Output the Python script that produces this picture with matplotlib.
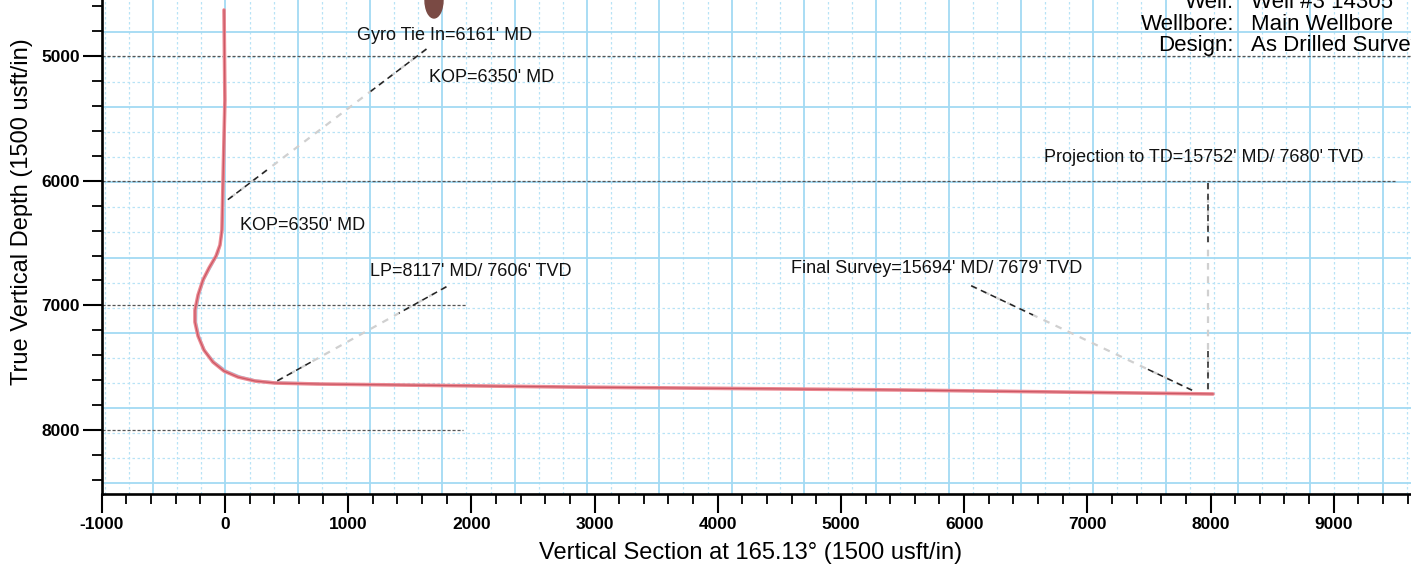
import numpy as np
import matplotlib.pyplot as plt
from matplotlib.patches import Ellipse

plt.rcParams['font.family'] = ['Liberation Sans', 'DejaVu Sans']
plt.rcParams['axes.unicode_minus'] = False

# well path: vertical section (usft) vs TVD (usft)
path_vs = [-7, 0, -15, -24, -40, -72, -129, -178, -218, -243, -243, -218, -170,
           -97, -7, 106, 244, 406, 747, 2777, 5480, 8020]
path_tvd = [4631, 5353, 5994, 6395, 6516, 6604, 6700, 6796, 6917, 7037, 7133, 7245, 7358,
            7454, 7526, 7574, 7606, 7622, 7630, 7654, 7678, 7710]

# plan line (thin blue) that runs along the curve
plan_vs = [-12, -20, -50, -110, -165, -205, -228, -230, -205, -160, -85, 10, 120, 250, 410, 760]
plan_tvd = [6000, 6420, 6580, 6690, 6790, 6910, 7035, 7135, 7250, 7360, 7450, 7520, 7566, 7598, 7614, 7622]

# annotations: text, text anchor (vs, tvd)
notes = [
    ("Gyro Tie In=6161' MD", 1069, 4839),
    ("KOP=6350' MD", 1660, 5169),
    ("KOP=6350' MD", 121, 6360),
    ("LP=8117' MD/ 7606' TVD", 1174, 6730),
    ("Final Survey=15694' MD/ 7679' TVD", 4591, 6706),
    ("Projection to TD=15752' MD/ 7680' TVD", 6648, 5813),
]
# leader lines, from -> to
leaders = [
    ((1636, 4944), (16, 6158)),     # gyro tie in
    ((1798, 6850), (421, 7607)),    # LP
    ((6057, 6842), (7850, 7680)),   # final survey
    ((7976, 6022), (7976, 7703)),   # projection to TD
]

header_keys = ['Well:', 'Wellbore:', 'Design:']
header_vals = ['Well #3 14305', 'Main Wellbore', 'As Drilled Survey']

W, H = 1411, 574
fig = plt.figure(figsize=(W / 100, H / 100), dpi=100)
ax = fig.add_axes([101.7 / W, 80 / H, 1 - 101.7 / W, 494 / H])
ax.set_xlim(-1000, 9627)
ax.set_ylim(8512, 4551)

# graph paper grid
gx0, gdx = 591, 587
for i, v in enumerate(np.arange(gx0 - 3 * gdx, 9700, gdx / 3)):
    if i % 3 == 0:
        ax.axvline(v, color='#a3daf3', lw=1.3, zorder=0)
    else:
        ax.axvline(v, color='#b8e3f6', lw=0.9, ls=(0, (2, 2)), zorder=0)
gy0, gdy = 5410, 603
for i, v in enumerate(np.arange(gy0 - gdy, 8600, gdy / 3)):
    if i % 3 == 0:
        ax.axhline(v, color='#a3daf3', lw=1.3, zorder=0)
    else:
        ax.axhline(v, color='#b8e3f6', lw=0.9, ls=(0, (2, 2)), zorder=0)

# dark dotted lines at the major depth ticks
for d, xe in [(5000, 9627), (6000, 9500), (7000, 1965), (8000, 1930)]:
    ax.plot([-1000, xe], [d, d], color='#555555', lw=0.9, ls=(0, (2.5, 1.5)), zorder=1)

# well path
ax.plot(plan_vs, plan_tvd, color='#9fd0ea', lw=1.0, zorder=2)
ax.plot(path_vs, path_tvd, color='#ec8a93', lw=2.6, zorder=3, solid_capstyle='round')
ax.plot(path_vs, path_tvd, color='#b03040', lw=0.9, alpha=0.55, zorder=3)

# leaders: faint grey full length, black dashes at the ends
for (x1, y1), (x2, y2) in leaders:
    ax.plot([x1, x2], [y1, y2], color='#d0d0d0', lw=1.6, ls=(0, (3, 3)), zorder=4)
    for a, b in [(0.0, 0.28), (0.8, 1.0)]:
        ax.plot([x1 + a * (x2 - x1), x1 + b * (x2 - x1)],
                [y1 + a * (y2 - y1), y1 + b * (y2 - y1)],
                color='#222222', lw=1.1, ls=(0, (4, 3)), zorder=5)

for txt, x, y in notes:
    ax.text(x, y, txt, fontsize=13, va='center', ha='left', color='#111111', zorder=6)

# axes styling
for s in ['top', 'right']:
    ax.spines[s].set_visible(False)
for s in ['left', 'bottom']:
    ax.spines[s].set_linewidth(1.9)
ax.set_xticks(np.arange(-1000, 9001, 1000))
ax.set_xticks(np.arange(-1000, 9627, 200), minor=True)
ax.set_yticks(np.arange(5000, 8001, 1000))
ax.set_yticks(np.arange(4600, 8512, 200), minor=True)
ax.tick_params(which='major', length=14, width=1.5, direction='out', labelsize=12.5, pad=1.5)
ax.tick_params(which='minor', length=7, width=1.3, direction='out')
ax.tick_params(axis='x', pad=2.5)
for lab in ax.get_xticklabels() + ax.get_yticklabels():
    lab.set_fontweight('bold')

fig.text(22 / W, 1 - 212 / H, 'True Vertical Depth (1500 usft/in)', rotation=90,
         ha='center', va='center', fontsize=17)
fig.text(751 / W, 1 - 553 / H, 'Vertical Section at 165.13\u00b0 (1500 usft/in)',
         ha='center', va='center', fontsize=17)

# header block, cut off by the page edge as in the scan
for i, (k, v) in enumerate(zip(header_keys, header_vals)):
    yy = 1 - (3 + 21 * i) / H
    fig.text(1234 / W, yy, k, ha='right', va='center', fontsize=16)
    fig.text(1251 / W, yy, v, ha='left', va='center', fontsize=16)

# dark blot at the top of the scan
fig.patches.append(Ellipse((434 / W, 1.0), 18 / W, 36 / H, transform=fig.transFigure,
                           color='#7a4a44', zorder=10))

fig.savefig('out.png', dpi=100)
